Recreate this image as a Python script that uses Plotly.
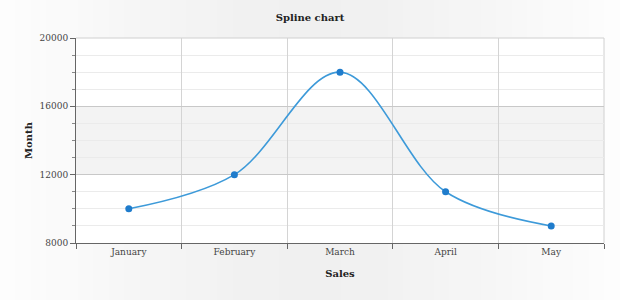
import plotly.graph_objects as go

months = ["January", "February", "March", "April", "May"]
sales = [10000, 12000, 18000, 11000, 9000]
band_range = [12000, 16000]

FONT = "DejaVu Serif"

fig = go.Figure()
fig.add_trace(go.Scatter(
    x=months, y=sales, mode="lines+markers",
    line=dict(shape="spline", smoothing=1, color="#3d9ad9", width=1.6),
    marker=dict(color="#1f7ccc", size=7),
    hoverinfo="x+y", showlegend=False,
))

shapes = []
# background gradient (white at edges, light gray in the middle)
n = 40
for i in range(n):
    t = (i + 0.5) / n
    d = abs(t - 0.5) * 2
    v = int(round(240 + 14 * d ** 1.5))
    c = f"rgb({v},{v},{v})"
    shapes.append(dict(type="rect", xref="paper", yref="paper",
                       x0=-76/528 + i * (620/528) / n, x1=-76/528 + (i + 1) * (620/528) / n + 0.002,
                       y0=-57/205, y1=1 + 38/205, fillcolor=c, line_width=0, layer="below"))
# white plot area
shapes.append(dict(type="rect", xref="paper", yref="paper", x0=0, x1=1, y0=0, y1=1,
                   fillcolor="white", line_width=0, layer="below"))
# shaded band
shapes.append(dict(type="rect", xref="paper", yref="y", x0=0, x1=1,
                   y0=band_range[0], y1=band_range[1],
                   fillcolor="#f3f3f3", line_width=0, layer="below"))
# right and top border of plot
shapes.append(dict(type="line", xref="paper", yref="paper", x0=1, x1=1, y0=0, y1=1,
                   line=dict(color="#d0d0d0", width=1), layer="below"))
shapes.append(dict(type="line", xref="paper", yref="paper", x0=0, x1=1, y0=1, y1=1,
                   line=dict(color="#d0d0d0", width=1), layer="below"))

fig.update_layout(
    width=620, height=300,
    margin=dict(l=76, r=16, t=38, b=57),
    paper_bgcolor="white", plot_bgcolor="rgba(0,0,0,0)",
    font=dict(family=FONT, size=9, color="#333"),
    title=dict(text="<b>Spline chart</b>", x=0.5, xref="container", xanchor="center",
               y=1 - 17/300, yref="container", yanchor="middle",
               font=dict(family=FONT, size=10, color="#222")),
    shapes=shapes,
    xaxis=dict(
        type="category", tickson="boundaries", range=[-0.5, len(months) - 0.5],
        showgrid=True, gridcolor="#d4d4d4", gridwidth=1,
        showline=True, linecolor="#666", linewidth=1,
        ticks="outside", ticklen=5, tickcolor="#666",
        tickfont=dict(family=FONT, size=9, color="#444"),
        title=dict(text="<b>Sales</b>", standoff=14, font=dict(family=FONT, size=10, color="#222")),
        zeroline=False, fixedrange=True,
    ),
    yaxis=dict(
        range=[8000, 20000], dtick=4000, tick0=8000, tickformat="d",
        showgrid=True, gridcolor="#c8c8c8", gridwidth=1,
        showline=True, linecolor="#666", linewidth=1,
        ticks="outside", ticklen=5, tickcolor="#666",
        tickfont=dict(family=FONT, size=9, color="#444"),
        minor=dict(dtick=1000, showgrid=True, gridcolor="#ebebeb", ticks="outside",
                   ticklen=3, tickcolor="#888"),
        title=dict(text="<b>Month</b>", standoff=5, font=dict(family=FONT, size=10, color="#222")),
        zeroline=False, fixedrange=True,
    ),
)

fig.write_html("out.html")
